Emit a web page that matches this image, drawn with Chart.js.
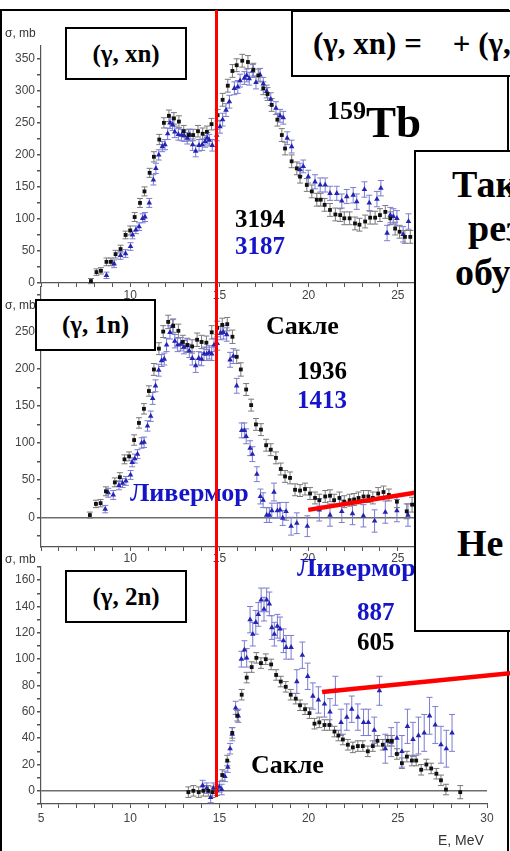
<!DOCTYPE html>
<html>
<head>
<meta charset="utf-8">
<script src="https://cdn.jsdelivr.net/npm/chart.js@4.4.1/dist/chart.umd.min.js"></script>
<style>
html, body { margin: 0; padding: 0; background: #fff; overflow: hidden; }
#page { position: relative; width: 510px; height: 851px; overflow: hidden; background: #fff; }
canvas { position: absolute; left: 0; }
.frame { position: absolute; left: 0; top: 9px; width: 509px; height: 900px; box-sizing: border-box; border: 2px solid #000; border-bottom: none; }
.box { position: absolute; box-sizing: border-box; border: 2px solid #000; background: #fff; }
.lbl { display: flex; align-items: center; justify-content: center; font-family: "Liberation Serif", serif; font-weight: bold; font-size: 25px; white-space: nowrap; overflow: hidden; }
.t { position: absolute; font-family: "Liberation Serif", serif; font-weight: bold; line-height: 1; white-space: nowrap; }
.blue { color: #1414c8; }
.ax { position: absolute; font-family: "Liberation Sans", Arial, sans-serif; font-size: 12px; color: #333; line-height: 1; white-space: nowrap; }
</style>
</head>
<body>
<div id="page">
  <div class="frame"></div>
  <canvas id="p1" width="510" height="308" style="top:0px"></canvas>
  <canvas id="p2" width="510" height="302" style="top:270px"></canvas>
  <canvas id="p3" width="510" height="289" style="top:540px"></canvas>

  <div class="ax" style="left:5px;top:27px">σ, mb</div>
  <div class="ax" style="left:5px;top:299px">σ, mb</div>
  <div class="ax" style="left:5px;top:553px">σ, mb</div>
  <div class="ax" style="left:438px;top:833px;font-size:14px">E, MeV</div>

  <!-- верхняя панель -->
  <div class="box lbl" style="left:65px;top:27px;width:122px;height:53px">(γ, xn)</div>
  <div class="box lbl" style="left:291px;top:10px;width:320px;height:67px;justify-content:flex-start;padding-left:20px;font-size:31px">(γ, xn) =&nbsp;&nbsp;&nbsp; + (γ, 2n)</div>
  <div class="t" style="left:327px;top:98px;font-size:26px">159</div>
  <div class="t" style="left:366px;top:100px;font-size:45px">Tb</div>
  <div class="t" style="left:235px;top:206px;font-size:25px">3194</div>
  <div class="t blue" style="left:235px;top:233px;font-size:25px">3187</div>

  <!-- (γ, 1n) -->
  <div class="box lbl" style="left:35px;top:299px;width:121px;height:52px">(γ, 1n)</div>
  <div class="t" style="left:266px;top:313px;font-size:26px">Сакле</div>
  <div class="t" style="left:297px;top:358px;font-size:25px">1936</div>
  <div class="t blue" style="left:297px;top:387px;font-size:25px">1413</div>
  <div class="t blue" style="left:130px;top:480px;font-size:26px">Ливермор</div>

  <!-- (γ, 2n) -->
  <div class="box lbl" style="left:65px;top:570px;width:122px;height:53px">(γ, 2n)</div>
  <div class="t blue" style="left:297px;top:555px;font-size:26px">Ливермор</div>
  <div class="t blue" style="left:357px;top:599px;font-size:25px">887</div>
  <div class="t" style="left:357px;top:629px;font-size:25px">605</div>
  <div class="t" style="left:251px;top:752px;font-size:26px">Сакле</div>

  <!-- большой текстовый блок справа -->
  <div class="box" style="left:414px;top:150px;width:140px;height:482px"></div>
  <div class="t" style="left:452px;top:165px;font-size:38px">Так</div>
  <div class="t" style="left:468px;top:209px;font-size:38px">рез</div>
  <div class="t" style="left:455px;top:253px;font-size:38px">обу</div>
  <div class="t" style="left:457px;top:524px;font-size:38px">Не</div>
</div>

<script>
// данные: [E (MeV), sigma (mb), ошибка (mb)]

// (g, xn)
const xnSaclay = [
  [7.8,3,4],[8.11,17,5],[8.36,19,5],[8.67,33,6],[8.92,33,6],[9.18,45,6],[9.46,53,6],[9.74,75,6],
  [10.0,82,7],[10.25,103,7],[10.55,125,7],[10.8,143,7],[11.09,172,7],[11.33,197,8],[11.63,224,8],
  [11.89,250,8],[12.17,261,9],[12.45,257,9],[12.73,252,9],[13.0,237,9],[13.27,231,9],[13.53,231,9],
  [13.8,237,9],[14.06,233,9],[14.3,236,9],[14.56,248,9],[14.9,262,9],[15.18,286,10],[15.47,308,10],
  [15.73,331,10],[15.97,340,10],[16.28,347,10],[16.6,345,10],[16.9,333,10],[17.18,324,10],
  [17.46,304,10],[17.7,295,10],[17.93,278,10],[18.25,255,10],[18.5,231,10],[18.68,210,10],
  [19.05,190,10],[19.34,179,10],[19.52,166,10],[19.9,153,10],[20.18,143,10],[20.46,130,10],
  [20.68,130,10],[20.9,122,10],[21.2,114,10],[21.5,107,10],[21.77,106,10],[22.0,101,10],
  [22.3,101,10],[22.6,93,10],[22.85,91,10],[23.17,96,10],[23.45,102,10],[23.73,102,10],
  [24.0,106,10],[24.3,111,10],[24.58,101,10],[24.85,85,10],[25.1,80,10],[25.4,72,10],[25.7,72,10]
];
const xnLivermore = [
  [8.67,12,5],[9.1,30,6],[9.46,43,6],[9.74,46,6],[10.02,57,6],[10.13,75,6],[10.32,83,6],[10.5,88,6],
  [10.7,101,7],[10.83,103,7],[11.07,125,7],[11.3,161,8],[11.44,179,8],[11.6,200,8],[11.8,213,8],
  [11.95,216,8],[12.1,233,9],[12.23,250,9],[12.38,247,9],[12.5,236,9],[12.7,232,9],[12.88,231,9],
  [13.03,230,9],[13.2,226,9],[13.35,231,9],[13.5,216,9],[13.67,206,9],[13.86,215,9],[14.04,216,9],
  [14.2,221,9],[14.32,226,9],[14.43,223,9],[14.6,215,9],[14.85,231,9],[15.03,244,10],[15.18,255,10],
  [15.37,270,10],[15.56,283,10],[15.84,304,10],[16.03,306,10],[16.16,316,10],[16.4,320,10],
  [16.53,324,10],[16.67,319,10],[16.87,331,10],[17.05,313,10],[17.28,325,10],[17.46,311,10],
  [17.65,299,10],[17.88,287,10],[18.17,273,10],[18.4,261,10],[18.58,258,10],[18.8,226,10],
  [19.05,213,10],[19.52,177,10],[19.7,182,10],[19.98,166,10],[20.36,158,11],[20.65,153,11],
  [20.93,153,11],[21.2,140,11],[21.58,140,11],[21.86,128,11],[22.14,135,11],[22.5,137,12],
  [22.7,127,12],[23.13,146,12],[23.4,125,12],[23.83,131,12],[24.05,148,12],[24.4,78,12],
  [24.58,106,12],[24.75,104,12],[24.95,101,12],[25.3,76,12],[25.6,96,12]
];

// (g, 1n)
const n1Saclay = [
  [7.74,3,4],[8.08,18,5],[8.34,19,5],[8.64,35,6],[9.14,47,6],[9.42,54,6],[9.68,78,6],[9.94,82,6],
  [10.22,104,7],[10.49,127,7],[10.77,146,7],[11.05,170,7],[11.33,199,8],[11.61,227,8],[11.85,250,8],
  [12.13,263,9],[12.41,258,9],[12.7,251,9],[12.95,236,9],[13.2,232,9],[13.47,230,9],[13.75,239,9],
  [14.0,236,9],[14.27,235,9],[14.57,249,9],[14.88,255,9],[15.16,259,9],[15.44,260,9],[15.73,243,9],
  [15.97,216,9],[16.2,199,9],[16.5,172,8],[16.78,151,8],[17.05,125,8],[17.33,118,8],[17.62,97,8],
  [17.88,91,8],[18.17,80,8],[18.44,65,8],[18.68,55,8],[18.96,53,8],[19.24,37,8],[19.52,36,8],
  [19.8,38,8],[20.08,32,8],[20.36,26,8],[20.6,23,8],[20.93,28,8],[21.2,29,8],[21.43,23,8],
  [21.73,26,8],[22.0,21,8],[22.3,23,8],[22.55,24,8],[22.8,26,8],[23.08,28,8],[23.35,28,8],
  [23.6,26,8],[23.9,32,8],[24.2,34,8],[24.5,30,8],[24.95,21,8],[25.5,8,10],[25.8,17,10]
];
const n1Livermore = [
  [8.6,11,5],[8.77,33,6],[9.05,30,6],[9.37,43,6],[9.57,46,6],[9.76,49,6],[10.02,57,6],[10.11,74,6],
  [10.26,79,6],[10.41,85,6],[10.64,100,7],[10.78,101,7],[10.97,123,7],[11.15,136,7],[11.26,160,8],
  [11.42,177,8],[11.6,198,8],[11.76,211,8],[11.91,213,8],[12.04,232,9],[12.23,249,9],[12.38,257,9],
  [12.5,237,9],[12.66,232,9],[12.83,233,9],[13.01,229,9],[13.2,231,9],[13.31,224,9],[13.48,214,9],
  [13.67,204,9],[13.84,214,9],[14.0,213,9],[14.14,220,9],[14.29,220,9],[14.43,222,9],[14.57,220,9],
  [14.7,232,9],[14.88,234,9],[15.07,248,9],[15.22,249,9],[15.41,246,9],[15.6,212,10],[15.78,217,10],
  [15.97,177,10],[16.25,117,10],[16.4,117,10],[16.5,109,10],[16.72,93,10],[16.85,85,10],
  [17.1,58,10],[17.3,28,10],[17.45,23,10],[17.65,3,10],[17.8,3,10],[17.94,9,10],[18.06,34,12],
  [18.25,9,10],[18.4,10,10],[18.55,-1,10],[18.74,8,12],[19.02,-12,12],[19.34,-8,14],[19.93,-12,14],
  [20.6,10,15],[21.2,3,15],[21.86,8,15],[22.46,5,15],[23.07,2,15],[23.7,-5,15],[24.3,7,15],
  [24.95,9,15],[25.57,3,15]
];

// (g, 2n)
const n2Saclay = [
  [13.26,-1,4],[13.54,0,4],[13.84,-1,4],[14.1,0,4],[14.38,0,4],[14.62,-1,4],[14.85,0.5,4],
  [15.16,12,4],[15.44,23,4],[15.72,44,4],[16.0,57,4],[16.25,73,4],[16.53,86,4],[16.81,94,4],
  [17.07,101,4],[17.33,97,4],[17.6,100,4],[17.9,96,4],[18.18,88,4],[18.44,83,4],[18.72,79,4],
  [19.0,73,4],[19.28,70,4],[19.52,65,4],[19.8,62,4],[20.05,59,4],[20.33,51,4],[20.6,52,4],
  [20.89,50,4],[21.17,50,4],[21.45,45,4],[21.67,42,4],[21.92,39,4],[22.2,35,4],[22.48,33,4],
  [22.76,34,4],[23.04,34,4],[23.32,30,4],[23.6,34,4],[23.86,38,4],[24.16,35,4],[24.44,38,4],
  [24.67,38,4],[24.95,28,4],[25.23,21,4],[25.51,26,4],[25.79,23,4],[26.03,23,4],[26.31,16,4],
  [26.6,20,4],[26.87,17,4],[27.16,13,4],[27.42,8,4],[27.7,1,4],[28.5,-1,5]
];
const n2Livermore = [
  [14.06,4,4],[14.29,2,4],[14.51,-5,4],[14.66,2,4],[15.0,3,4],[15.13,1,4],[15.31,11,4],[15.47,18,4],
  [15.6,32,4],[15.72,43,5],[15.91,63,5],[16.06,57,5],[16.23,100,6],[16.4,107,7],[16.53,101,7],
  [16.72,130,10],[16.87,119,9],[17.04,128,9],[17.18,134,9],[17.34,145,9],[17.5,138,9],[17.65,145,9],
  [17.8,142,9],[17.94,124,9],[18.08,119,9],[18.25,125,9],[18.4,123,9],[18.59,114,9],[18.74,109,9],
  [19.02,109,9],[19.34,83,9],[19.65,103,10],[19.95,87,10],[20.24,72,10],[20.55,69,10],[20.89,66,10],
  [21.2,60,10],[21.5,76,11],[21.82,52,10],[22.14,56,10],[22.42,62,10],[22.76,56,10],[23.08,52,10],
  [23.35,52,10],[23.68,46,10],[23.97,76,11],[24.3,32,11],[24.63,37,11],[24.95,40,12],[25.23,30,12],
  [25.54,49,13],[25.85,39,13],[26.16,42,14],[26.48,44,14],[26.78,57,14],[27.1,50,14],[27.42,35,14],
  [27.72,32,14],[28.04,44,14]
];

// оси
const xTicks = [5,6,7,8,9,10,11,12,13,14,15,16,17,18,19,20,21,22,23,24,25,26,27,28,29,30];
const xLabelsTop = [10,15,20,25,30];
const xLabelsBottom = [5,10,15,20,25,30];
const yTicksXn = [0,25,50,75,100,125,150,175,200,225,250,275,300,325,350];
const yLabelsXn = [0,50,100,150,200,250,300,350];
const yTicks1n = [-25,0,25,50,75,100,125,150,175,200,225,250,275,300];
const yLabels1n = [0,50,100,150,200,250];
const yTicks2n = [-10,0,10,20,30,40,50,60,70,80,90,100,110,120,130,140,150,160,170];
const yLabels2n = [0,20,40,60,80,100,120,140,160];

// красные линии
const thresholdE = 14.85;
const redLine1n = [[19.98,10],[27,37]];
const redLine2n = [[20.76,75],[31.3,89.4]];

// error bars + red lines
const marks = {
  id: 'marks',
  beforeDatasetsDraw(chart) {
    const {ctx, scales: {x, y}} = chart;
    chart.data.datasets.forEach(ds => {
      ctx.save();
      ctx.strokeStyle = ds.errColor;
      ctx.lineWidth = 1;
      ctx.beginPath();
      ds.data.forEach(p => {
        const px = x.getPixelForValue(p.x);
        const y1 = y.getPixelForValue(p.y - p.e);
        const y2 = y.getPixelForValue(p.y + p.e);
        ctx.moveTo(px, y1); ctx.lineTo(px, y2);
        ctx.moveTo(px - 3, y1); ctx.lineTo(px + 3, y1);
        ctx.moveTo(px - 3, y2); ctx.lineTo(px + 3, y2);
      });
      ctx.stroke();
      ctx.restore();
    });
  },
  afterDraw(chart, args, opts) {
    if (!opts.line) return;
    const {ctx, scales: {x, y}} = chart;
    ctx.save();
    ctx.strokeStyle = '#ff0000';
    ctx.lineWidth = 4.5;
    ctx.beginPath();
    ctx.moveTo(x.getPixelForValue(opts.line[0][0]), y.getPixelForValue(opts.line[0][1]));
    ctx.lineTo(x.getPixelForValue(opts.line[1][0]), y.getPixelForValue(opts.line[1][1]));
    ctx.stroke();
    ctx.restore();
  }
};

const toPoints = arr => arr.map(r => ({x: r[0], y: r[1], e: r[2]}));

function makePanel(id, saclay, livermore, cfg) {
  return new Chart(document.getElementById(id), {
    type: 'scatter',
    data: {
      datasets: [
        { data: toPoints(saclay), pointStyle: 'rect', pointRadius: 2.7, backgroundColor: '#111',
          borderColor: '#111', borderWidth: 0, errColor: '#7a7a7a' },
        { data: toPoints(livermore), pointStyle: 'triangle', pointRadius: 3.2, backgroundColor: '#2424b4',
          borderColor: '#2424b4', borderWidth: 0, errColor: '#7c7cd0' }
      ]
    },
    options: {
      responsive: false,
      animation: false,
      events: [],
      layout: { padding: { top: cfg.padTop, right: 23, left: 0, bottom: 0 } },
      plugins: { legend: { display: false }, tooltip: { enabled: false }, marks: { line: cfg.redLine } },
      scales: {
        x: {
          type: 'linear', min: 5, max: 30,
          afterBuildTicks: s => { s.ticks = xTicks.map(v => ({value: v})); },
          afterFit: s => { s.height = 25; },
          ticks: {
            autoSkip: false, maxRotation: 0, padding: cfg.xPad, color: '#444',
            font: { family: 'Liberation Sans', size: 12 },
            callback: v => cfg.xLabels.includes(v) ? String(v) : ''
          },
          grid: { drawOnChartArea: false, tickLength: 4, color: '#555', tickColor: '#555' },
          border: { color: '#555', width: 1.2 }
        },
        y: {
          type: 'linear', min: cfg.yMin, max: cfg.yMax,
          afterBuildTicks: s => { s.ticks = cfg.yTicks.map(v => ({value: v})); },
          afterFit: s => { s.width = 41; },
          ticks: {
            autoSkip: false, padding: 2, color: '#444',
            font: { family: 'Liberation Sans', size: 12 },
            callback: v => cfg.yLabels.includes(v) ? String(v) : ''
          },
          grid: {
            drawOnChartArea: cfg.zero, tickLength: 4, tickColor: '#555', lineWidth: 1.5,
            color: c => (c.tick && c.tick.value === 0) ? '#6e6e6e' : 'rgba(0,0,0,0)'
          },
          border: { color: '#555', width: 1.2 }
        }
      }
    },
    plugins: [marks]
  });
}

const chartXn = makePanel('p1', xnSaclay, xnLivermore, {
  padTop: 46, xPad: 1, xLabels: xLabelsTop, yMin: 0, yMax: 370,
  yTicks: yTicksXn, yLabels: yLabelsXn, zero: false, redLine: null
});
const chart1n = makePanel('p2', n1Saclay, n1Livermore, {
  padTop: 17, xPad: 0, xLabels: xLabelsTop, yMin: -40, yMax: 310,
  yTicks: yTicks1n, yLabels: yLabels1n, zero: true, redLine: redLine1n
});
const chart2n = makePanel('p3', n2Saclay, n2Livermore, {
  padTop: 27, xPad: 3, xLabels: xLabelsBottom, yMin: -10, yMax: 170,
  yTicks: yTicks2n, yLabels: yLabels2n, zero: true, redLine: redLine2n
});

// вертикальная красная линия порога
const vx = chart2n.scales.x.getPixelForValue(thresholdE);
const vline = document.createElement('div');
vline.style.cssText = 'position:absolute;top:10px;height:787px;width:3px;background:#ff0000;left:' + (vx - 1.5) + 'px';
document.getElementById('page').appendChild(vline);
</script>
</body>
</html>
